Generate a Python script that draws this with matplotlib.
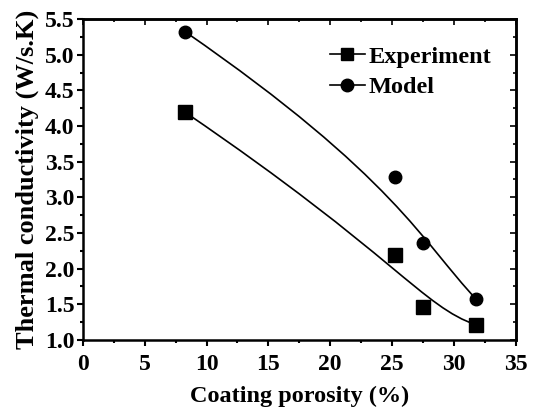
import matplotlib.pyplot as plt
from matplotlib.path import Path
from matplotlib.patches import PathPatch
from matplotlib.lines import Line2D
from matplotlib.ticker import MultipleLocator

plt.rcParams['font.family'] = 'Liberation Serif'
plt.rcParams['font.weight'] = 'bold'

# data
porosity = [8.3, 25.2, 27.5, 31.8]
experiment = [4.19, 2.19, 1.46, 1.21]
model = [5.32, 3.29, 2.36, 1.57]

fig = plt.figure(figsize=(5.34, 4.07), dpi=100)
ax = fig.add_axes([0.155, 0.165, 0.811, 0.788])

# smooth B-spline style curves (4 control points -> cubic bezier)
codes = [Path.MOVETO, Path.CURVE4, Path.CURVE4, Path.CURVE4]
for ys in (experiment, model):
    path = Path(list(zip(porosity, ys)), codes)
    ax.add_patch(PathPatch(path, facecolor='none', edgecolor='black', lw=1.2))

ax.plot(porosity, experiment, 's', color='black', ms=9.5, ls='none')
ax.plot(porosity, model, 'o', color='black', ms=9, ls='none')

ax.set_xlim(0, 35)
ax.set_ylim(1.0, 5.5)
ax.xaxis.set_major_locator(MultipleLocator(5))
ax.xaxis.set_minor_locator(MultipleLocator(2.5))
ax.yaxis.set_major_locator(MultipleLocator(0.5))
ax.yaxis.set_minor_locator(MultipleLocator(0.25))
ax.yaxis.set_major_formatter(plt.FormatStrFormatter('%.1f'))

ax.tick_params(which='both', direction='out', top=False, right=False, labelsize=17, width=1.5)
ax.tick_params(which='major', length=4, pad=2)
ax.tick_params(which='minor', length=2.5)
ax.tick_params(axis='x', pad=6)
sec_x = ax.secondary_xaxis('top')
sec_y = ax.secondary_yaxis('right')
for s in (sec_x, sec_y):
    s.tick_params(which='both', direction='in', labelsize=0, width=1.2)
    s.tick_params(which='major', length=4)
    s.tick_params(which='minor', length=2.5)
sec_x.xaxis.set_major_locator(MultipleLocator(5))
sec_x.xaxis.set_minor_locator(MultipleLocator(2.5))
sec_y.yaxis.set_major_locator(MultipleLocator(0.5))
sec_y.yaxis.set_minor_locator(MultipleLocator(0.25))
sec_x.set_xticklabels([])
sec_y.set_yticklabels([])
for s in (sec_x, sec_y):
    s.spines[:].set_linewidth(1.8)
for sp in ax.spines.values():
    sp.set_linewidth(1.8)

ax.set_xlabel('Coating porosity (%)', fontsize=17.5, fontweight='bold', labelpad=8)
ax.set_ylabel('Thermal conductivity (W/s.K)', fontsize=19, fontweight='bold', labelpad=4)

handles = [
    Line2D([], [], color='black', marker='s', ms=9, lw=1.2, label='Experiment'),
    Line2D([], [], color='black', marker='o', ms=9, lw=1.2, label='Model'),
]
ax.legend(handles=handles, loc='upper left', bbox_to_anchor=(0.52, 0.985), frameon=False,
          handlelength=1.45, handletextpad=0.15, labelspacing=0.35,
          prop={'weight': 'bold', 'size': 17.5})

fig.savefig('out.png', dpi=100)
